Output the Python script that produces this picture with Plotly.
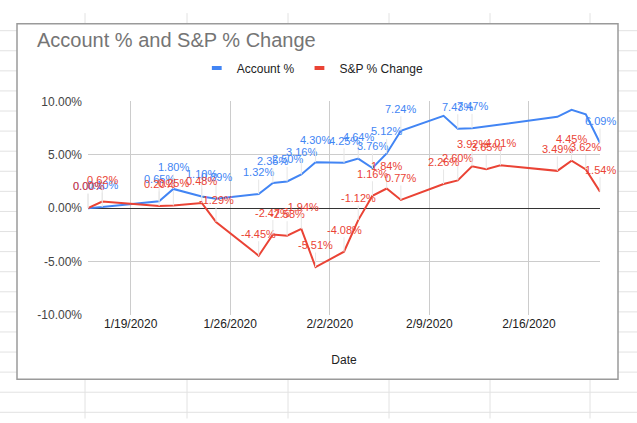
import plotly.graph_objects as go

# chart data
dates = ["2020-01-16", "2020-01-17", "2020-01-21", "2020-01-22", "2020-01-24",
         "2020-01-25", "2020-01-28", "2020-01-29", "2020-01-30", "2020-01-31",
         "2020-02-01", "2020-02-03", "2020-02-04", "2020-02-05", "2020-02-06",
         "2020-02-07", "2020-02-10", "2020-02-11", "2020-02-12", "2020-02-13",
         "2020-02-14", "2020-02-18", "2020-02-19", "2020-02-20", "2020-02-21"]
account_pct = [0.00, 0.10, 0.65, 1.80, 1.10, 0.89, 1.32, 2.35, 2.50, 3.16,
               4.30, 4.25, 4.64, 3.76, 5.12, 7.24, 8.64, 7.43, 7.47, 7.65,
               7.83, 8.55, 9.20, 8.78, 6.09]
sp_pct = [0.00, 0.62, 0.20, 0.25, 0.48, -1.29, -4.45, -2.47, -2.58, -1.94,
          -5.51, -4.08, -1.12, 1.16, 1.84, 0.77, 2.26, 2.60, 3.92, 3.65,
          4.01, 3.49, 4.45, 3.62, 1.54]
x_ticks = ["2020-01-19", "2020-01-26", "2020-02-02", "2020-02-09", "2020-02-16"]
x_tick_text = ["1/19/2020", "1/26/2020", "2/2/2020", "2/9/2020", "2/16/2020"]
y_ticks = [-10, -5, 0, 5, 10]
y_tick_text = ["-10.00%", "-5.00%", "0.00%", "5.00%", "10.00%"]

BLUE = "#4285F4"
RED = "#EA4335"
FONT = "Liberation Sans, Arial, sans-serif"

W, H = 637, 423
ML, MR, MT, MB = 88, 37, 92, 108
PW, PH = W - ML - MR, H - MT - MB


def px_x(p):
    return (p - ML) / PW


def px_y(p):
    return (H - MB - p) / PH


fig = go.Figure()
fig.add_trace(go.Scatter(x=dates, y=account_pct, mode="lines", name="Account %",
                         line=dict(color=BLUE, width=2), showlegend=False))
fig.add_trace(go.Scatter(x=dates, y=sp_pct, mode="lines", name="S&P % Change",
                         line=dict(color=RED, width=2), showlegend=False))
# legend swatches (short thick bars like Sheets)
for name, c in [("Account %", BLUE), ("S&P % Change", RED)]:
    fig.add_trace(go.Scatter(x=[None], y=[None], mode="markers", name=name,
                             marker=dict(symbol="line-ew", size=7,
                                         line=dict(width=4, color=c))))

# data labels, hidden when they would go past the top of the plot
annots = []
for vals, c in [(account_pct, BLUE), (sp_pct, RED)]:
    for d, v in zip(dates, vals):
        if v > 7.5:
            continue
        annots.append(dict(x=d, y=v, text=f"{v:.2f}%", showarrow=True,
                           arrowhead=0, arrowwidth=1, arrowcolor="#e6e6e6",
                           ax=0, ay=-22, standoff=0,
                           font=dict(family=FONT, size=11, color=c)))

# spreadsheet cells behind the chart + chart box
shapes = []
for cx in [85, 187, 288, 389, 490, 590]:
    shapes.append(dict(type="line", xref="paper", yref="paper",
                       x0=px_x(cx), x1=px_x(cx), y0=px_y(0), y1=px_y(H),
                       line=dict(color="#e2e2e2", width=1), layer="below"))
for k in range(21):
    ry = 18.3 + 20.96 * k
    shapes.append(dict(type="line", xref="paper", yref="paper",
                       x0=px_x(0), x1=px_x(W), y0=px_y(ry), y1=px_y(ry),
                       line=dict(color="#e2e2e2", width=1), layer="below"))
shapes.append(dict(type="rect", xref="paper", yref="paper",
                   x0=px_x(17), x1=px_x(618), y0=px_y(382), y1=px_y(11),
                   fillcolor="white", line=dict(color="#9a9a9a", width=1.5),
                   layer="below"))

fig.update_layout(
    width=W, height=H,
    margin=dict(l=ML, r=MR, t=MT, b=MB),
    paper_bgcolor="white",
    plot_bgcolor="rgba(0,0,0,0)",
    font=dict(family=FONT, size=12, color="#444"),
    title=dict(text="Account % and S&P % Change", xref="container", yref="container",
               x=37 / W, xanchor="left", y=1 - 40 / H, yanchor="middle",
               font=dict(family=FONT, size=20, color="#757575")),
    legend=dict(orientation="h", xref="container", yref="container",
                x=0.491, xanchor="center", y=1 - 68 / H, yanchor="middle",
                font=dict(family=FONT, size=12, color="#222"),
                bgcolor="rgba(0,0,0,0)"),
    annotations=annots,
    shapes=shapes,
    showlegend=True,
)
fig.update_xaxes(type="date", range=["2020-01-16", "2020-02-21"],
                 tickvals=x_ticks, ticktext=x_tick_text,
                 showgrid=True, gridcolor="#cccccc", gridwidth=1,
                 showline=False, zeroline=False, ticks="",
                 tickfont=dict(family=FONT, size=12, color="#222"),
                 title=dict(text="Date", standoff=25,
                            font=dict(family=FONT, size=12, color="#222")))
fig.update_yaxes(range=[-10, 10], tickvals=y_ticks, ticktext=y_tick_text,
                 showgrid=True, gridcolor="#cccccc", gridwidth=1,
                 zeroline=True, zerolinecolor="#333333", zerolinewidth=1,
                 showline=False, ticks="", ticklabelstandoff=5,
                 tickfont=dict(family=FONT, size=12, color="#444"))

fig.write_html("out.html", config={"displayModeBar": False},
               post_script="document.body.style.margin='0';")
